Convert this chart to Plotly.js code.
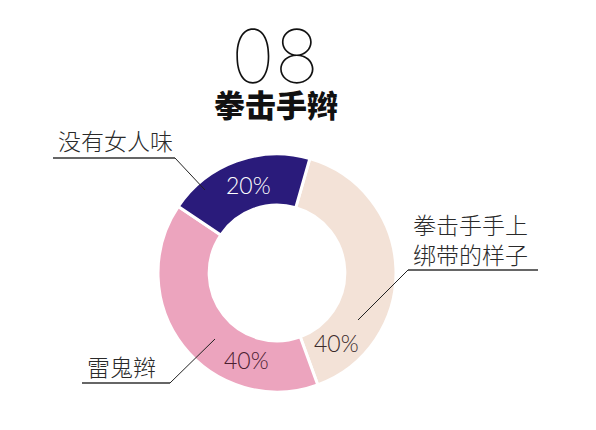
<!DOCTYPE html>
<html>
<head>
<meta charset="utf-8">
<script src="https://cdn.plot.ly/plotly-3.0.1.min.js"></script>
<style>
  html, body { margin: 0; padding: 0; background: #fff; }
  #chart { width: 596px; height: 430px; }
</style>
</head>
<body>
<div id="chart"></div>
<script>
// slices in drawing order, clockwise from the navy/beige boundary
var labels = ['拳击手手上绑带的样子', '雷鬼辫', '没有女人味'];
var values = [40, 40, 20];
var colors = ['#f3e2d7', '#eca4be', '#2a1b7b'];
var pctColors = ['#3a2a2a', '#4a2030', '#ffffff'];

var W = 596, H = 430;
function px(x) { return x / W; }
function py(y) { return 1 - y / H; }

var cx = 277, cy = 273, R = 119;

var trace = {
    type: 'pie',
    labels: labels,
    values: values,
    sort: false,
    direction: 'clockwise',
    rotation: 16,
    hole: 0.57,
    textinfo: 'none',
    hoverinfo: 'label+percent',
    marker: {colors: colors, line: {color: '#ffffff', width: 3}},
    domain: {x: [px(cx - R), px(cx + R)], y: [py(cy + R), py(cy - R)]},
    showlegend: false
};

// percentage label spots and callout labels
var pctPos = [[336, 343], [246, 360], [248, 185]];
var callouts = [
    {text: '拳击手手上<br>绑带的样子', x: 470, y: 239, line: [[538, 270], [408, 270], [358, 320]]},
    {text: '雷鬼辫', x: 121, y: 366, line: [[82, 383], [170, 383], [215, 339]]},
    {text: '没有女人味', x: 115, y: 140, line: [[53, 158], [175, 158], [205, 190]]}
];

function note(text, x, y, font, align) {
    return {text: text, x: px(x), y: py(y), xref: 'paper', yref: 'paper',
        xanchor: 'center', yanchor: 'middle', showarrow: false,
        align: align || 'center', font: font};
}

var annotations = [
    note('08', 275, 56, {family: 'Inter, Lato, sans-serif', size: 74, weight: 100, color: '#111'}),
    note('拳击手辫', 276, 104, {family: 'Noto Sans CJK SC', size: 31, weight: 900, color: '#111'})
];

var shapes = [];

values.forEach(function (v, i) {
    annotations.push(note(v + '%', pctPos[i][0], pctPos[i][1],
        {family: 'Lato, sans-serif', size: 23, weight: 300, color: pctColors[i]}));
    var c = callouts[i];
    annotations.push(note(c.text, c.x, c.y,
        {family: 'Noto Sans CJK SC', size: 23, weight: 300, color: '#2a2a2a'}, 'left'));
    var p = c.line;
    shapes.push({type: 'line', xref: 'paper', yref: 'paper',
        x0: px(p[0][0]), y0: py(p[0][1]), x1: px(p[1][0]), y1: py(p[1][1]),
        line: {color: '#666', width: 2}});
    shapes.push({type: 'line', xref: 'paper', yref: 'paper',
        x0: px(p[1][0]), y0: py(p[1][1]), x1: px(p[2][0]), y1: py(p[2][1]),
        line: {color: '#222', width: 1}});
});

var layout = {
    width: W,
    height: H,
    margin: {t: 0, b: 0, l: 0, r: 0},
    paper_bgcolor: '#ffffff',
    annotations: annotations,
    shapes: shapes
};

Plotly.newPlot('chart', [trace], layout, {displayModeBar: false, staticPlot: true});
</script>
</body>
</html>
